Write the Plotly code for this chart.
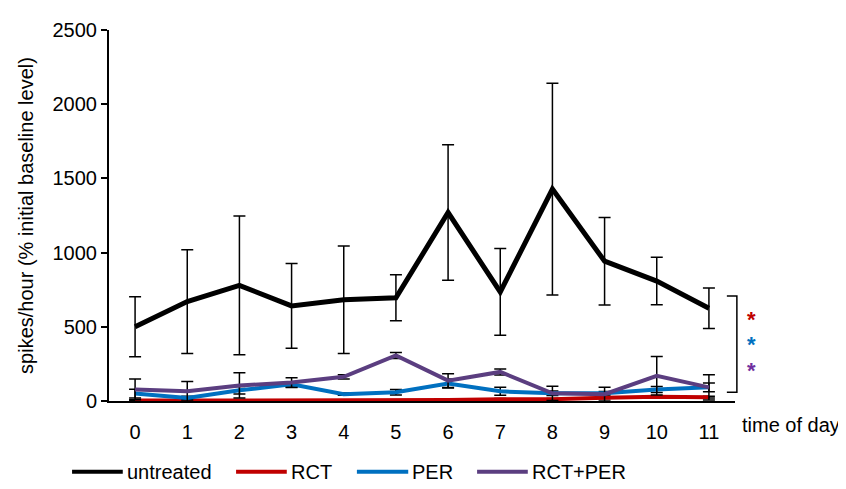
import plotly.graph_objects as go

hours = list(range(12))
tick_labels = [str(h) for h in hours]
series_names = ["untreated", "RCT", "PER", "RCT+PER"]
untreated = [500, 670, 779, 641, 682, 695, 1270, 735, 1428, 942, 808, 625]
untreated_err = [202, 350, 468, 285, 362, 155, 456, 292, 713, 295, 160, 137]
rct = [3, 3, 3, 3, 3, 3, 6, 12, 12, 22, 28, 26]
rct_err = [3, 3, 3, 3, 3, 3, 4, 5, 5, 6, 6, 6]
per = [50, 20, 72, 112, 46, 59, 118, 65, 52, 52, 78, 92]
per_err = [30, 12, 25, 18, 8, 18, 30, 27, 15, 12, 20, 30]
rctper = [78, 65, 105, 124, 163, 307, 137, 196, 52, 46, 170, 92]
rctper_err = [70, 66, 85, 33, 14, 20, 46, 20, 48, 46, 130, 85]
colors = ["#000000", "#C00000", "#0070C0", "#5B3E80"]
star_colors = ["#C00000", "#0070C0", "#7030A0"]

FONT = "Liberation Sans, Arial, sans-serif"
FS = 20
fig = go.Figure()
data = [(untreated, untreated_err, 5), (rct, rct_err, 4), (per, per_err, 4), (rctper, rctper_err, 4)]
for (vals, errs, lw), name, c in zip(data, series_names, colors):
    fig.add_trace(go.Scatter(
        x=hours, y=vals, name=name, mode="lines",
        line=dict(color=c, width=lw),
        error_y=dict(type="data", array=errs, visible=True, color="black", thickness=1.5, width=6),
        showlegend=False,
    ))

# manual legend
leg_x = [(-0.059, 0.022, 0.025), (0.203, 0.284, 0.287), (0.396, 0.478, 0.481), (0.588, 0.669, 0.672)]
leg_y = -0.191
for (x0, x1, xt), name, c in zip(leg_x, series_names, colors):
    fig.add_shape(type="line", xref="paper", yref="paper", x0=x0, x1=x1, y0=leg_y, y1=leg_y,
                  line=dict(color=c, width=4))
    fig.add_annotation(xref="paper", yref="paper", x=xt, y=leg_y, text=name, showarrow=False,
                       xanchor="left", yanchor="middle", font=dict(family=FONT, size=FS, color="black"))

# significance bracket
fig.add_shape(type="path", xref="paper", yref="paper",
              path="M 0.987 0.2828 L 1.003 0.2828 L 1.003 0.0236 L 0.987 0.0236",
              line=dict(color="black", width=1.5))
stars = "<br>".join(f"<span style='font-size:22px;color:{c}'><b>*</b></span>" for c in star_colors)
fig.add_annotation(x=1.026, y=0.157, xref="paper", yref="paper", text=stars, showarrow=False,
                   xanchor="center", yanchor="middle", yshift=-2,
                   font=dict(family=FONT, size=19.6, color="black"))

fig.add_annotation(xref="paper", yref="paper", x=1.008, y=-0.065, text="time of day", showarrow=False,
                   xanchor="left", yanchor="middle", font=dict(family=FONT, size=FS, color="black"))

fig.update_layout(
    width=838, height=481,
    margin=dict(l=101, r=111, t=11, b=88),
    plot_bgcolor="white", paper_bgcolor="white",
    font=dict(family=FONT, size=FS, color="black"),
    xaxis=dict(range=[-0.5, 11.5], tickmode="array", tickvals=hours, ticktext=tick_labels,
               showgrid=False, zeroline=False, showline=True, linecolor="black", linewidth=2,
               ticks="", ticklabelstandoff=12),
    yaxis=dict(range=[0, 2500], tickvals=[0, 500, 1000, 1500, 2000, 2500], showgrid=False,
               zeroline=False, showline=True, linecolor="black", linewidth=2, ticks="outside",
               ticklen=6, tickwidth=2, tickcolor="black",
               title=dict(text="spikes/hour (% initial baseline level)", standoff=14,
                          font=dict(size=FS))),
)
fig.write_html("out.html")
